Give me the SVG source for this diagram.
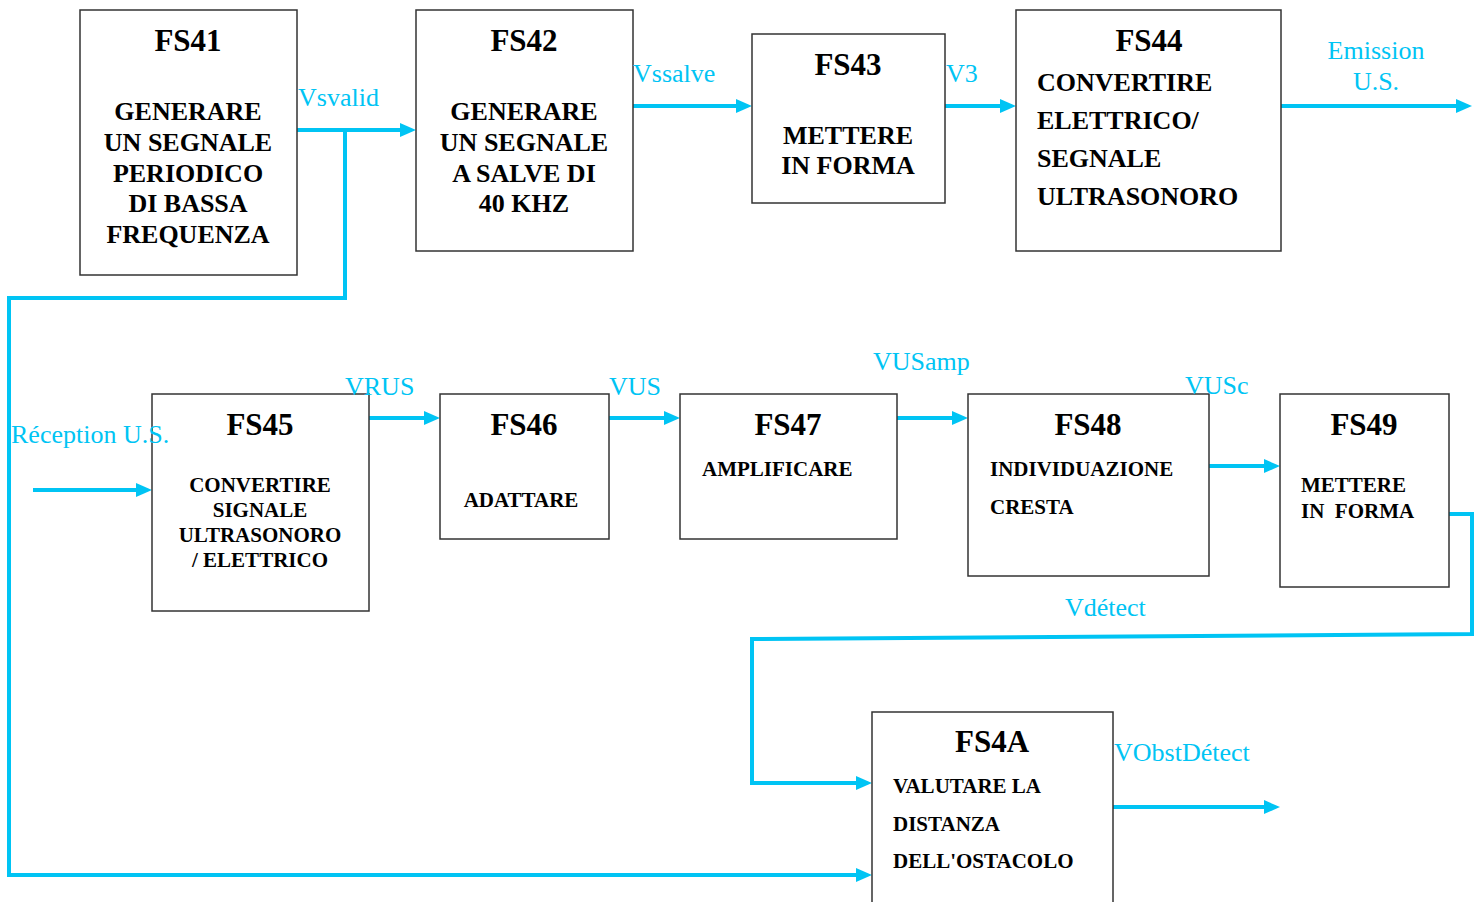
<svg xmlns="http://www.w3.org/2000/svg" width="1484" height="902" viewBox="0 0 1484 902">
<defs>
<style>
.box{fill:#fff;stroke:#333;stroke-width:1.5}
.t{font-family:"Liberation Serif",serif;font-weight:bold;fill:#000;font-size:31px;text-anchor:middle}
.b{font-family:"Liberation Serif",serif;font-weight:bold;fill:#000;font-size:26px}
.s{font-family:"Liberation Serif",serif;font-weight:bold;fill:#000;font-size:21px}
.c{text-anchor:middle}
.lbl{font-family:"Liberation Serif",serif;fill:#00c4f4;font-size:26px}
.cn{fill:none;stroke:#00c4f4;stroke-width:4;marker-end:url(#ah)}
</style>
<marker id="ah" markerUnits="userSpaceOnUse" markerWidth="16" markerHeight="14" refX="1" refY="7" orient="auto">
<path d="M0,0 L16,7 L0,14 Z" fill="#00c4f4"/>
</marker>
</defs>
<rect width="1484" height="902" fill="#fff"/>
<g id="connectors">
<path class="cn" d="M297,130 H401"/>
<path class="cn" d="M345,130 V298 H9 V875 H857"/>
<path class="cn" d="M633,106 H737"/>
<path class="cn" d="M945,106 H1001"/>
<path class="cn" d="M1281,106 H1457"/>
<path class="cn" d="M33,490 H137"/>
<path class="cn" d="M369,418 H425"/>
<path class="cn" d="M609,418 H665"/>
<path class="cn" d="M897,418 H953"/>
<path class="cn" d="M1209,466 H1265"/>
<path class="cn" d="M1449,514 H1472 V634 L752,639 V783 H857"/>
<path class="cn" d="M1113,807 H1265"/>
</g>
<g id="FS41">
<rect class="box" x="80" y="10" width="217" height="265"/>
<text class="t" x="188" y="51">FS41</text>
<text class="b c" x="188" y="120">GENERARE</text>
<text class="b c" x="188" y="151">UN SEGNALE</text>
<text class="b c" x="188" y="182">PERIODICO</text>
<text class="b c" x="188" y="212">DI BASSA</text>
<text class="b c" x="188" y="243">FREQUENZA</text>
</g>
<g id="FS42">
<rect class="box" x="416" y="10" width="217" height="241"/>
<text class="t" x="524" y="51">FS42</text>
<text class="b c" x="524" y="120">GENERARE</text>
<text class="b c" x="524" y="151">UN SEGNALE</text>
<text class="b c" x="524" y="182">A SALVE DI</text>
<text class="b c" x="524" y="212">40 KHZ</text>
</g>
<g id="FS43">
<rect class="box" x="752" y="34" width="193" height="169"/>
<text class="t" x="848" y="75">FS43</text>
<text class="b c" x="848" y="144">METTERE</text>
<text class="b c" x="848" y="174">IN FORMA</text>
</g>
<g id="FS44">
<rect class="box" x="1016" y="10" width="265" height="241"/>
<text class="t" x="1149" y="51">FS44</text>
<text class="b" x="1037" y="91">CONVERTIRE</text>
<text class="b" x="1037" y="129">ELETTRICO/</text>
<text class="b" x="1037" y="167">SEGNALE</text>
<text class="b" x="1037" y="205">ULTRASONORO</text>
</g>
<g id="FS45">
<rect class="box" x="152" y="394" width="217" height="217"/>
<text class="t" x="260" y="435">FS45</text>
<text class="s c" x="260" y="492">CONVERTIRE</text>
<text class="s c" x="260" y="517">SIGNALE</text>
<text class="s c" x="260" y="542">ULTRASONORO</text>
<text class="s c" x="260" y="567">/ ELETTRICO</text>
</g>
<g id="FS46">
<rect class="box" x="440" y="394" width="169" height="145"/>
<text class="t" x="524" y="435">FS46</text>
<text class="s c" x="521" y="507">ADATTARE</text>
</g>
<g id="FS47">
<rect class="box" x="680" y="394" width="217" height="145"/>
<text class="t" x="788" y="435">FS47</text>
<text class="s" x="702" y="476">AMPLIFICARE</text>
</g>
<g id="FS48">
<rect class="box" x="968" y="394" width="241" height="182"/>
<text class="t" x="1088" y="435">FS48</text>
<text class="s" x="990" y="476">INDIVIDUAZIONE</text>
<text class="s" x="990" y="514">CRESTA</text>
</g>
<g id="FS49">
<rect class="box" x="1280" y="394" width="169" height="193"/>
<text class="t" x="1364" y="435">FS49</text>
<text class="s" x="1301" y="492">METTERE</text>
<text class="s" x="1301" y="518" xml:space="preserve">IN  FORMA</text>
</g>
<g id="FS4A">
<rect class="box" x="872" y="712" width="241" height="200"/>
<text class="t" x="992" y="752">FS4A</text>
<text class="s" x="893" y="793">VALUTARE LA</text>
<text class="s" x="893" y="831">DISTANZA</text>
<text class="s" x="893" y="868">DELL'OSTACOLO</text>
</g>
<g id="labels">
<text class="lbl" x="298" y="106">Vsvalid</text>
<text class="lbl" x="633" y="82">Vssalve</text>
<text class="lbl" x="946" y="82">V3</text>
<text class="lbl c" x="1376" y="59">Emission</text>
<text class="lbl c" x="1376" y="90">U.S.</text>
<text class="lbl" x="11" y="443">Réception U.S.</text>
<text class="lbl" x="345" y="395">VRUS</text>
<text class="lbl" x="609" y="395">VUS</text>
<text class="lbl" x="873" y="370">VUSamp</text>
<text class="lbl" x="1185" y="394">VUSc</text>
<text class="lbl" x="1065" y="616">Vdétect</text>
<text class="lbl" x="1114" y="761">VObstDétect</text>
</g>
</svg>
